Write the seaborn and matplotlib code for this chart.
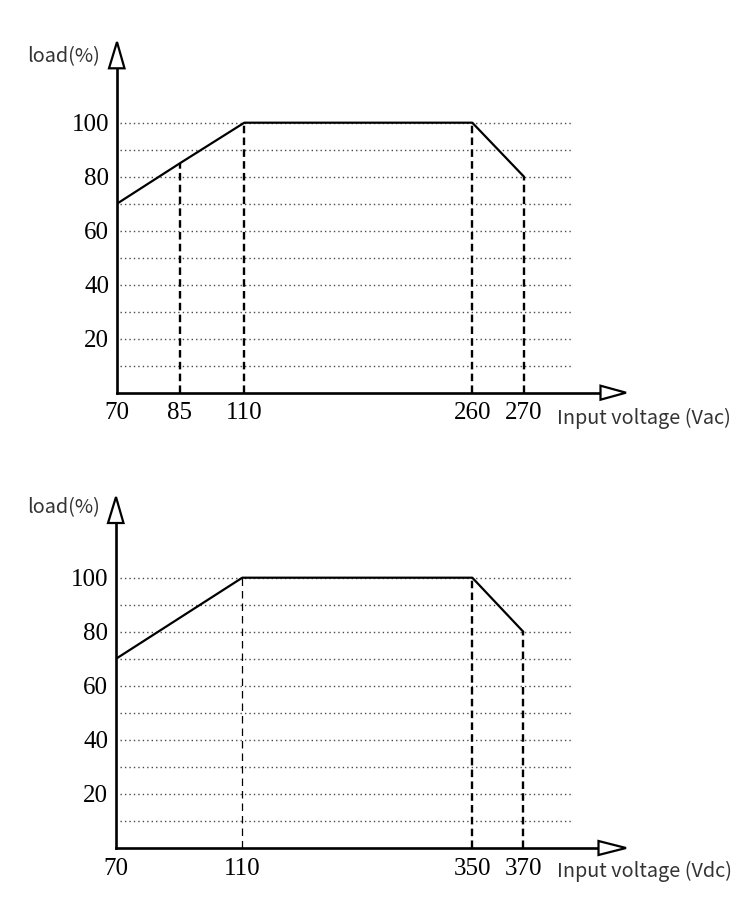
import numpy as np
import pandas as pd
import matplotlib
matplotlib.use("Agg")
import matplotlib.pyplot as plt
import seaborn as sns
from matplotlib.patches import Polygon

# ---------------- data ----------------
ac_voltage = [70, 85, 110, 260, 270]
ac_load = [70, 85, 100, 100, 80]
ac_guides = [85, 110, 260, 270]
ac_guide_thin = []

dc_voltage = [70, 110, 350, 370]
dc_load = [70, 100, 100, 80]
dc_guides = [110, 350, 370]
dc_guide_thin = [110]

y_ticks = [20, 40, 60, 80, 100]
grid_levels = [10, 20, 30, 40, 50, 60, 70, 80, 90, 100]

ac_xlabel = "Input voltage (Vac)"
dc_xlabel = "Input voltage (Vdc)"
y_label = "load(%)"

# ---------------- layout (pixels of the reference picture) ----------------
W, H = 739, 907
ac_break_px = [0, 63, 127.3, 355.3, 407]      # where each tick sits along the axis
dc_break_px = [0, 126.3, 356.3, 407.3]

sns.set_theme(style="white")
plt.rcParams["font.family"] = ["Liberation Serif", "DejaVu Serif"]

fig = plt.figure(figsize=(W / 100, H / 100), dpi=100)


def fx(x):
    return x / W


def fy(y):
    return 1 - y / H


def make_scale(v, p):
    v = np.asarray(v, float)
    p = np.asarray(p, float)
    s0 = (p[1] - p[0]) / (v[1] - v[0])
    s1 = (p[-1] - p[-2]) / (v[-1] - v[-2])

    def fwd(x):
        x = np.asarray(x, float)
        y = np.interp(x, v, p)
        y = np.where(x < v[0], p[0] + (x - v[0]) * s0, y)
        y = np.where(x > v[-1], p[-1] + (x - v[-1]) * s1, y)
        return y

    def inv(y):
        y = np.asarray(y, float)
        x = np.interp(y, p, v)
        x = np.where(y < p[0], v[0] + (y - p[0]) / s0, x)
        x = np.where(y > p[-1], v[-1] + (y - p[-1]) / s1, x)
        return x

    return fwd, inv


def panel(left, right, top, bottom, y100, voltage, load, guides, thin,
          breaks, xlabel, label_y, xlab_y, yarrow_base, xarrow_base):
    ax = fig.add_axes([fx(left), fy(bottom), fx(right - left), (bottom - top) / H])
    ppu = (bottom - y100) / 100.0
    ax.set_ylim(0, (bottom - top) / ppu)
    fwd, inv = make_scale(voltage, breaks)
    ax.set_xscale("function", functions=(fwd, inv))
    ax.set_xlim(voltage[0], float(inv(right - left)))

    # dotted grid
    gx0 = (120 - left) / (right - left)
    gx1 = (573 - left) / (right - left)
    for g in grid_levels:
        ax.axhline(g, gx0, gx1, color="#4a4a4a", lw=1.0,
                   linestyle=(0, (1, 2.2)), zorder=1)

    # dashed guides
    lookup = dict(zip(voltage, load))
    for gv in guides:
        if gv in thin:
            ax.vlines(gv, 0, lookup[gv], color="black", lw=0.9,
                      linestyle=(0, (6, 4)), zorder=2)
        else:
            ax.vlines(gv, 0, lookup[gv], color="black", lw=1.7,
                      linestyle=(0, (3.2, 1.8)), zorder=2)

    df = pd.DataFrame({"v": voltage, "load": load})
    sns.lineplot(data=df, x="v", y="load", ax=ax, color="black", lw=1.6,
                 sort=False, zorder=3)
    ax.set_xlabel("")
    ax.set_ylabel("")

    # spines
    for s in ["top", "right"]:
        ax.spines[s].set_visible(False)
    for s in ["left", "bottom"]:
        ax.spines[s].set_color("black")
        ax.spines[s].set_linewidth(1.9)
    ax.spines["left"].set_bounds(0, (bottom - yarrow_base) / ppu)
    ax.spines["bottom"].set_bounds(voltage[0], float(inv(xarrow_base - left)))

    ax.set_yticks(y_ticks)
    ax.set_yticklabels([str(t) for t in y_ticks])
    ax.set_xticks(voltage)
    ax.set_xticklabels([str(v) for v in voltage])
    ax.tick_params(axis="both", length=0, labelsize=18, colors="black")
    ax.tick_params(axis="y", pad=5.5)
    ax.tick_params(axis="x", pad=7)
    ax.set_facecolor("none")

    # arrows
    cx = left
    ya = Polygon([(fx(cx - 8), fy(yarrow_base)), (fx(cx + 7.5), fy(yarrow_base)),
                  (fx(cx), fy(top))], closed=True, transform=fig.transFigure,
                 facecolor="white", edgecolor="black", lw=1.6)
    fig.add_artist(ya)
    xa = Polygon([(fx(xarrow_base), fy(bottom - 7)), (fx(xarrow_base), fy(bottom + 7)),
                  (fx(right), fy(bottom))], closed=True, transform=fig.transFigure,
                 facecolor="white", edgecolor="black", lw=1.6)
    fig.add_artist(xa)

    fig.text(fx(100), fy(label_y), y_label, ha="right", va="center",
             fontsize=14.3, color="#333333", family=["Noto Sans CJK SC", "DejaVu Sans"])
    fig.text(fx(557), fy(xlab_y), xlabel, ha="left", va="center",
             fontsize=14.3, color="#333333", family=["Noto Sans CJK SC", "DejaVu Sans"])
    return ax


panel(117, 626, 42, 392.7, 122.7, ac_voltage, ac_load, ac_guides, ac_guide_thin,
      ac_break_px, ac_xlabel, 57, 418, 68.3, 600.5)
panel(116, 626, 497, 848, 577.7, dc_voltage, dc_load, dc_guides, dc_guide_thin,
      dc_break_px, dc_xlabel, 508, 871, 523, 598.5)

fig.savefig("out.png", dpi=100, facecolor="white")
